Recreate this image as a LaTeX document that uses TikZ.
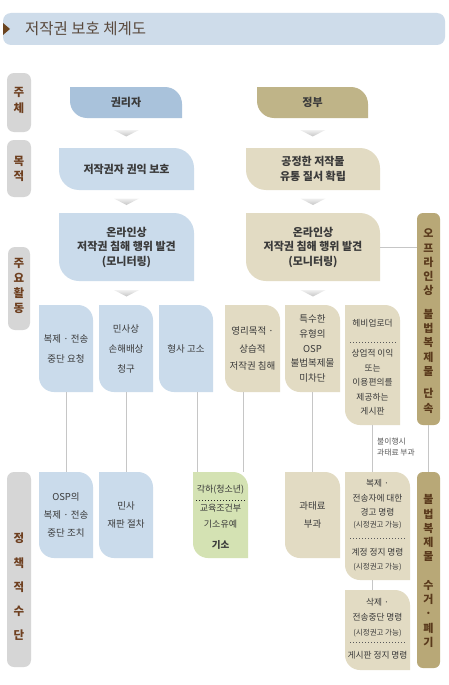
\documentclass[tikz,border=0pt]{standalone}
\usepackage{fontspec}
\setmainfont{Noto Sans CJK KR}
\usetikzlibrary{calc}
\definecolor{bluedk}{HTML}{A9C2DB}
\definecolor{bluelt}{HTML}{CADBEB}
\definecolor{khakidk}{HTML}{BFB488}
\definecolor{khakilt}{HTML}{E2DBC3}
\definecolor{barkh}{HTML}{B8A877}
\definecolor{greenlt}{HTML}{D4E2B3}
\definecolor{labgray}{HTML}{D6D6D6}
\definecolor{labtxt}{HTML}{6E3F1F}
\definecolor{bartxt}{HTML}{5A3A1C}
\definecolor{bodytxt}{HTML}{3A3A3A}
\definecolor{linegray}{HTML}{C6C6C6}
\definecolor{titlebar}{HTML}{CEDCEA}
\definecolor{titletxt}{HTML}{5A4A3E}
\definecolor{tri}{HTML}{6B4420}

\newcommand\leafpath[6]{%
 \fill[#1] (#2,-#3) -- ({#4-#6},-#3) arc[start angle=90,end angle=0,radius=#6] -- (#4,-#5) -- ({#2+#6},-#5) arc[start angle=270,end angle=180,radius=#6] -- cycle;}
\newcommand\leafbox[9]{%
 \leafpath{#2}{#3}{#4}{#5}{#6}{#7}
 \node[boxtxt,#8,minimum width={(#5-#3)*1pt},minimum height={(#6-#4)*1pt}] (#1) at ({(#3+#5)/2},{-(#4+#6)/2}) {#9};}
\newcommand\chevbetween[2]{%
 \coordinate (chv) at ($(#1)!0.5!(#2)$);
 \shade[top color=gray!12, bottom color=gray!45] ($(chv)+(-12.5,3)$) -- ($(chv)+(12.5,3)$) -- ($(chv)+(0,-3.5)$) -- cycle;}

\tikzset{
 boxtxt/.style={inner sep=0pt, align=center, text=bodytxt},
 topb/.style={font=\fontsize{11}{14.5}\selectfont\bfseries},
 actf/.style={font=\fontsize{9.5}{20}\selectfont},
 actg/.style={font=\fontsize{9.5}{17.5}\selectfont},
 acth/.style={font=\fontsize{9.5}{14.7}\selectfont},
 polf/.style={font=\fontsize{9.5}{18}\selectfont},
 rtxt/.style={inner sep=0pt, align=center, text=bodytxt, font=\fontsize{8.7}{14.5}\selectfont},
 smalltxt/.style={inner sep=0pt, align=center, text=bodytxt, font=\fontsize{7.5}{9}\selectfont},
 lab/.style={fill=labgray, rounded corners=7pt, minimum width=24pt, inner sep=0pt, align=center, text=labtxt},
 labtext/.style={inner sep=0pt, align=center, text=labtxt, font=\fontsize{11.5}{15}\selectfont\bfseries},
 vbar/.style={fill=barkh, rounded corners=6pt, minimum width=23pt, inner sep=0pt},
 vbartext/.style={inner sep=0pt, align=center, text=bartxt, font=\fontsize{11}{14.3}\selectfont\bfseries},
 conn/.style={draw=linegray, line width=0.8pt},
 dotsep/.style={line width=0.7pt, dash pattern=on 0.7pt off 2.3pt, draw=black!65},
}

\begin{document}
\begin{tikzpicture}[x=1pt,y=1pt]
\fill[white] (0,0) rectangle (449,-685);
\useasboundingbox (0,0) rectangle (449,-685);

% title
\node[fill=titlebar, rounded corners=8pt, minimum width=442pt, minimum height=32pt, inner sep=0pt] (title) at (224,-29) {};
\fill[tri] (3,-23) -- (10,-29) -- (3,-35) -- cycle;
\node[anchor=west, inner sep=0pt, text=titletxt, font=\fontsize{15.5}{17}\selectfont] (titletext) at (25,-29) {저작권 보호 체계도};

% left labels
\node[lab, minimum height=59pt] (l1) at (19,-102.5) {};
\node[labtext, font=\fontsize{11.5}{16}\selectfont\bfseries] (l1t) at (19,-100) {주\\체};
\node[lab, minimum height=57pt] (l2) at (19,-168.5) {};
\node[labtext] (l2t) at (19,-169) {목\\적};
\node[lab, minimum height=83pt, minimum width=22pt] (l3) at (19,-288.5) {};
\node[labtext] (l3t) at (19,-286) {주\\요\\활\\동};
\node[lab, minimum height=195pt] (l4) at (19,-569.5) {};
\node[labtext, font=\fontsize{11.5}{24.3}\selectfont\bfseries] (l4t) at (19,-587) {정\\책\\적\\수\\단};

% row 1
\leafbox{kwon}{bluedk}{70}{87}{182}{118}{17}{topb}{권리자}
\leafbox{gov}{khakidk}{257}{87}{368}{118}{17}{topb}{정부}
% row 2
\leafbox{mokL}{bluelt}{59}{148}{194}{190}{20}{topb}{저작권자 권익 보호}
\leafbox{mokR}{khakilt}{246}{148}{380}{190}{20}{topb}{공정한 저작물\\유통 질서 확립}
% row 3
\leafbox{monL}{bluelt}{59}{213}{194}{281}{20}{topb}{온라인상\\저작권 침해 행위 발견\\(모니터링)}
\leafbox{monR}{khakilt}{246}{213}{380}{281}{20}{topb}{온라인상\\저작권 침해 행위 발견\\(모니터링)}

% chevrons
\chevbetween{kwon.south}{mokL.north}
\chevbetween{gov.south}{mokR.north}
\chevbetween{mokL.south}{monL.north}
\chevbetween{mokR.south}{monR.north}

% activity row
\leafbox{actA}{bluelt}{39}{305}{93}{392}{15}{actf}{복제 · 전송\\중단 요청}
\leafbox{actB}{bluelt}{99}{305}{153}{392}{15}{actf}{민사상\\손해배상\\청구}
\leafbox{actC}{bluelt}{159}{305}{213}{392}{15}{actf}{형사 고소}
\leafbox{actD}{khakilt}{225}{305}{280}{392}{15}{actg}{영리목적 ·\\상습적\\저작권 침해}
\leafbox{actE}{khakilt}{285}{305}{340}{392}{15}{acth}{특수한\\유형의\\OSP\\불법복제물\\미차단}
\leafbox{actF}{khakilt}{345}{305}{400}{425}{15}{}{}
\node[rtxt] (actF1) at (372.5,-323) {헤비업로더};
\draw[dotsep] (350,-342) -- (396,-342);
\node[rtxt] (actF2) at (372.5,-382.5) {상업적 이익\\또는\\이용편의를\\제공하는\\게시판};

\chevbetween{monL.south}{monL.south |- actA.north}
\chevbetween{monR.south}{monR.south |- actA.north}

% right bars
\node[vbar, minimum height=212pt] (bar1) at (428.5,-319) {};
\node[vbartext] (bar1t) at (428.5,-321) {오\\프\\라\\인\\상\\[9pt]불\\법\\복\\제\\물\\[8pt]단\\속};
\node[vbar, minimum height=196pt] (bar2) at (428.5,-570) {};
\node[vbartext] (bar2t) at (428.5,-571) {불\\법\\복\\제\\물\\[14pt]수\\거\\·\\폐\\기};

% policy row
\leafbox{polA}{bluelt}{39}{472}{93}{558}{15}{polf}{OSP의\\복제 · 전송\\중단 조치}
\leafbox{polB}{bluelt}{99}{472}{153}{558}{15}{polf}{민사\\재판 절차}
\leafbox{green}{greenlt}{193}{472}{248}{558}{15}{}{}
\node[boxtxt, font=\fontsize{9}{16}\selectfont] (green1) at (220.5,-490) {각하(청소년)};
\draw[dotsep, draw=black!85] (196,-500) -- (246,-500);
\node[boxtxt, font=\fontsize{9}{16}\selectfont] (green2) at (220.5,-516) {교육조건부\\기소유예};
\node[boxtxt, font=\fontsize{9.5}{16}\selectfont\bfseries] (green3) at (220.5,-545) {기소};
\leafbox{polD}{khakilt}{285}{472}{340}{558}{15}{polf}{과태료\\부과}
\leafbox{polE}{khakilt}{345}{472}{410}{580}{15}{}{}
\node[rtxt] (polE1) at (377.5,-498) {복제 ·\\전송자에 대한\\경고 명령};
\node[smalltxt] (polE2) at (377.5,-525) {(시정권고 가능)};
\draw[dotsep] (350,-538) -- (405,-538);
\node[rtxt] (polE3) at (377.5,-552) {계정 정지 명령};
\node[smalltxt] (polE4) at (377.5,-567) {(시정권고 가능)};
\leafbox{polF}{khakilt}{345}{590}{410}{670}{15}{}{}
\node[rtxt] (polF1) at (377.5,-610) {삭제 ·\\전송중단 명령};
\node[smalltxt] (polF2) at (377.5,-633) {(시정권고 가능)};
\draw[dotsep] (350,-642) -- (405,-642);
\node[rtxt] (polF3) at (377.5,-655) {게시판 정지 명령};

% connectors
\draw[conn] (monR.east) -- (monR.east -| bar1.west);
\draw[conn] (actA.south) -- (polA.north);
\draw[conn] (actB.south) -- (actB.south |- polB.north);
\coordinate (cC) at ($(actC.south)+(11,0)$);
\draw[conn] (cC) -- (cC |- green.north);
\coordinate (cD) at ($(actD.south)+(-9.5,0)$);
\draw[conn] (cD) -- (cD |- green.north);
\draw[conn] (actE.south) -- (actE.south |- polD.north);
\draw[conn] (actF.south) -- (actF.south |- polE.north);
\coordinate (cE) at (actF.south |- polE.south);
\draw[conn] (cE) -- (cE |- polF.north);
\draw[conn] (bar1.south) -- (bar1.south |- bar2.north);
\node[anchor=west, inner sep=0pt, align=left, text=black!65, font=\fontsize{7.8}{11}\selectfont] (nonc) at (377,-447.5) {불이행시\\과태료 부과};
\end{tikzpicture}
\end{document}
